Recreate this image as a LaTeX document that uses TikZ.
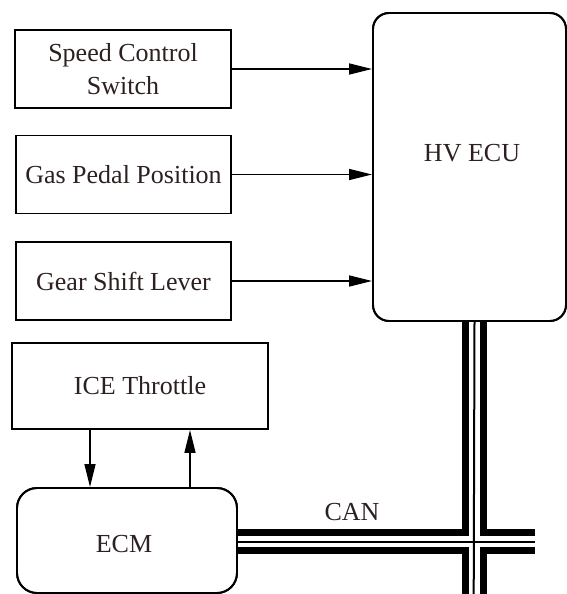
\documentclass[tikz,border=0pt]{standalone}
\usepackage{fontspec}
\setmainfont{Liberation Serif}
\usetikzlibrary{arrows.meta}
\definecolor{txt}{RGB}{45,32,32}
\begin{document}
\begin{tikzpicture}[x=1pt,y=-1pt,
  box/.style={draw=black,line width=1.9pt,fill=white,inner sep=0pt,text=txt,
    font=\fontsize{26}{33}\selectfont,align=center},
  rbox/.style={box,rounded corners=16pt},
  lbl/.style={text=txt,font=\fontsize{26}{33}\selectfont,inner sep=0pt},
  sig/.style={line width=1.3pt,-{Triangle[length=23pt,width=11pt]}}]
\useasboundingbox (0,0) rectangle (567,594);
% CAN bus
\coordinate (busR) at (535,541.5);
\coordinate (busB) at (474.5,594);
\node[rbox,minimum width=193pt,minimum height=308pt] (hv) at (469.5,167) {};
\node[rbox,rounded corners=20pt,minimum width=220pt,minimum height=105pt] (ecm) at (127,540.5) {};
\begin{scope}[line cap=butt]
\draw[line width=25pt,black] (hv.south -| busB) -- (busB);
\draw[line width=25pt,black] (ecm.east |- busR) -- (busR);
\draw[line width=11pt,white] (hv.south -| busB) ++(0,-1) -- (busB);
\draw[line width=11pt,white] (ecm.east |- busR) ++(-1,0) -- (busR);
\draw[line width=2pt,black] (hv.south -| busB) -- ([xshift=-0.8pt]busB);
\draw[line width=2pt,black] (ecm.east |- busR) -- (busR);
\end{scope}
% redraw boxes on top of bus ends
\node[rbox,minimum width=193pt,minimum height=308pt,fill=none] at (hv) {};
\node[rbox,rounded corners=20pt,minimum width=220pt,minimum height=105pt,fill=none] at (ecm) {};
\node[lbl] (hvt) at (472,153) {HV ECU};
\node[lbl] (ecmt) at (124,544) {ECM};
\node[lbl] (can) at (352,512) {CAN};
% input boxes
\node[box,minimum width=216pt,minimum height=78pt] (speed) at (123,69) {Speed Control\\Switch};
\node[box,minimum width=215pt,minimum height=78pt] (gas) at (123.5,174.5) {Gas Pedal Position};
\node[box,minimum width=215pt,minimum height=78pt] (gear) at (123.5,281) {Gear Shift Lever};
\node[box,minimum width=256pt,minimum height=86pt] (ice) at (140,386) {ICE Throttle};
% arrows
\draw[sig] (speed.east) -- (speed.east -| hv.west);
\draw[sig] (gas.east) -- (gas.east -| hv.west);
\draw[sig] (gear.east) -- (gear.east -| hv.west);
\coordinate (xd) at (90,0);
\coordinate (xu) at (190,0);
\draw[sig] (ice.south -| xd) -- (ecm.north -| xd);
\draw[sig] (ecm.north -| xu) -- (ice.south -| xu);
\end{tikzpicture}
\end{document}
